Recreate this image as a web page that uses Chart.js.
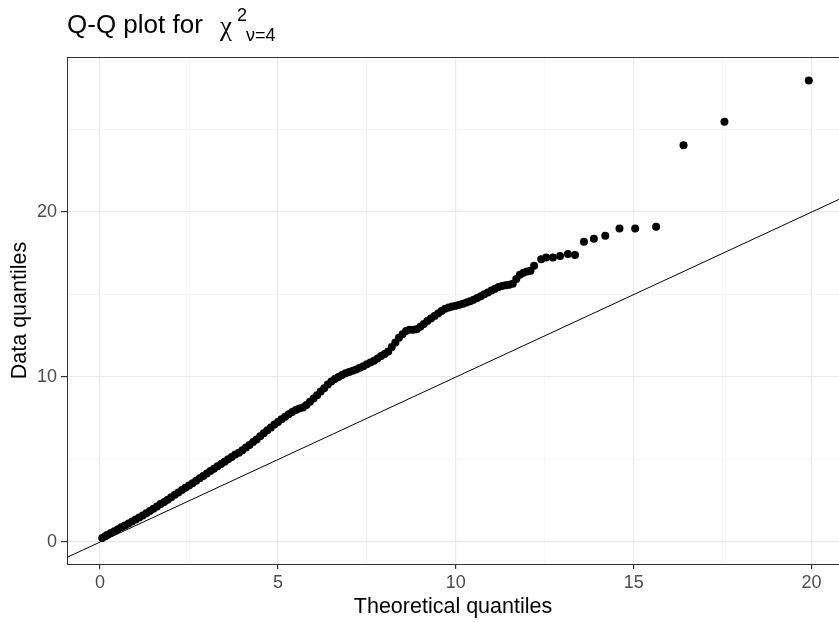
<!DOCTYPE html>
<html>
<head>
<meta charset="utf-8">
<script src="https://cdn.jsdelivr.net/npm/chart.js@4/dist/chart.umd.min.js"></script>
<style>
  html, body { margin: 0; padding: 0; background: #fff; }
  #box { width: 839px; height: 622px; }
</style>
</head>
<body>
<div id="box"><canvas id="qqChart" width="839" height="622"></canvas></div>
<script>
// theoretical quantiles (x) and sorted data quantiles (y)
var theoX = [0.06, 0.15, 0.2, 0.3, 0.4, 0.5, 0.6, 0.7, 0.8, 0.9, 1.0, 1.1, 1.2, 1.3, 1.4, 1.5, 1.6, 1.7, 1.8, 1.9,
  2.0, 2.1, 2.2, 2.3, 2.4, 2.5, 2.6, 2.7, 2.8, 2.9, 3.0, 3.1, 3.2, 3.3, 3.4, 3.5, 3.6, 3.7, 3.8, 3.9,
  4.0, 4.1, 4.2, 4.3, 4.4, 4.5, 4.6, 4.7, 4.8, 4.9, 5.0, 5.1, 5.2, 5.3, 5.4, 5.5, 5.6, 5.7, 5.8, 5.9,
  6.0, 6.1, 6.2, 6.3, 6.4, 6.5, 6.6, 6.7, 6.8, 6.9, 7.0, 7.1, 7.2, 7.3, 7.4, 7.5, 7.6, 7.7, 7.8, 7.9,
  8.0, 8.1, 8.2, 8.3, 8.4, 8.5, 8.6, 8.7, 8.8, 8.9, 9.0, 9.1, 9.2, 9.3, 9.4, 9.5, 9.6, 9.7, 9.8, 9.9,
  10.0, 10.1, 10.2, 10.3, 10.4, 10.5, 10.6, 10.7, 10.8, 10.9, 11.0, 11.1, 11.2, 11.3, 11.4, 11.5, 11.6, 11.7, 11.8, 11.9,
  12.0, 12.1, 12.2, 12.4, 12.54, 12.73, 12.93, 13.15, 13.35, 13.6, 13.88, 14.2, 14.6, 15.04, 15.63, 16.4, 17.55, 19.92];
var dataY = [0.25, 0.35, 0.43, 0.55, 0.66, 0.78, 0.9, 1.01, 1.13, 1.25, 1.37, 1.49, 1.61, 1.74, 1.88, 2.02, 2.16, 2.3, 2.43, 2.57,
  2.71, 2.86, 3.0, 3.15, 3.29, 3.43, 3.57, 3.72, 3.86, 4.01, 4.16, 4.3, 4.45, 4.59, 4.73, 4.86, 5.02, 5.16, 5.31, 5.42,
  5.57, 5.73, 5.89, 6.06, 6.22, 6.41, 6.59, 6.77, 6.95, 7.12, 7.28, 7.45, 7.59, 7.74, 7.88, 8.01, 8.1, 8.16, 8.3, 8.5,
  8.7, 8.9, 9.12, 9.33, 9.55, 9.73, 9.88, 10.0, 10.12, 10.23, 10.3, 10.38, 10.46, 10.56, 10.66, 10.77, 10.88, 10.99, 11.13, 11.27,
  11.4, 11.55, 11.82, 12.1, 12.38, 12.6, 12.8, 12.87, 12.87, 12.9, 13.05, 13.22, 13.4, 13.55, 13.7, 13.85, 14.0, 14.14, 14.22, 14.27,
  14.32, 14.38, 14.45, 14.52, 14.6, 14.68, 14.8, 14.9, 15.02, 15.12, 15.25, 15.36, 15.46, 15.52, 15.57, 15.6, 15.65, 15.95, 16.2, 16.32,
  16.4, 16.45, 16.75, 17.14, 17.24, 17.24, 17.34, 17.46, 17.4, 18.2, 18.39, 18.57, 19.0, 19.0, 19.11, 24.05, 25.48, 27.98];

// reference line y = x, drawn across the panel
var refLine = [-1, 21];

// axis ticks
var xTicks = [0, 5, 10, 15, 20];
var xMinor = [2.5, 7.5, 12.5, 17.5];
var yTicks = [0, 10, 20];
var yMinor = [5, 15, 25];

var points = theoX.map(function(x, i){ return {x: x, y: dataY[i]}; });
var linePts = refLine.map(function(v){ return {x: v, y: v}; });

function setTicks(major, minor){
  return function(scale){
    scale.ticks = major.concat(minor).sort(function(a, b){ return a - b; })
      .map(function(v){ return {value: v}; });
  };
}
function isMajor(list){
  return function(ctx){ return ctx.tick && list.indexOf(ctx.tick.value) >= 0; };
}
var xMaj = isMajor(xTicks), yMaj = isMajor(yTicks);

//标题: 带上下标的文字
var titlePlugin = {
  id: 'qqTitle',
  afterDraw: function(chart){
    var c = chart.ctx, a = chart.chartArea;
    c.save();
    c.fillStyle = '#000';
    c.textBaseline = 'alphabetic';
    c.textAlign = 'left';
    c.font = '26px "Liberation Sans", Arial, sans-serif';
    c.fillText('Q-Q plot for', 67, 33);
    c.font = '27px "Liberation Serif", serif';
    c.fillText('\u03c7', 220, 35);
    c.font = '18px "Liberation Sans", Arial, sans-serif';
    c.fillText('2', 237, 21);
    c.fillText('\u03bd=4', 246, 41);
    // panel border (top)
    c.strokeStyle = '#333333';
    c.lineWidth = 1;
    c.beginPath();
    c.moveTo(a.left, a.top + 0.5);
    c.lineTo(chart.width, a.top + 0.5);
    c.stroke();
    c.restore();
  }
};

new Chart(document.getElementById('qqChart'), {
  type: 'scatter',
  data: {
    datasets: [
      {
        type: 'line',
        data: linePts,
        borderColor: '#000',
        borderWidth: 1,
        pointRadius: 0,
        fill: false,
        order: 0
      },
      {
        data: points,
        backgroundColor: '#000',
        borderColor: '#000',
        borderWidth: 0,
        pointRadius: 4,
        pointHoverRadius: 4,
        order: 1
      }
    ]
  },
  options: {
    responsive: false,
    animation: false,
    layout: { autoPadding: false, padding: { top: 57, left: 0, right: 0, bottom: 0 } },
    plugins: {
      legend: { display: false },
      tooltip: { enabled: false },
      title: { display: false }
    },
    scales: {
      x: {
        type: 'linear',
        min: -0.93,
        max: 20.77,
        afterBuildTicks: setTicks(xTicks, xMinor),
        afterFit: function(s){ s.height = 58; s.paddingLeft = 0; s.paddingRight = 0; },
        grid: {
          color: function(ctx){ return xMaj(ctx) ? '#ebebeb' : '#f1f1f1'; },
          lineWidth: function(ctx){ return xMaj(ctx) ? 1.2 : 0.8; },
          tickColor: function(ctx){ return xMaj(ctx) ? '#333333' : 'rgba(0,0,0,0)'; },
          tickLength: 5,
          drawTicks: true
        },
        border: { display: true, color: '#333333', width: 1 },
        ticks: {
          autoSkip: false,
          maxRotation: 0,
          padding: 3,
          color: '#4d4d4d',
          font: { family: '"Liberation Sans", Arial, sans-serif', size: 18 },
          callback: function(v){ return xTicks.indexOf(v) >= 0 ? String(v) : ''; }
        },
        title: {
          display: true,
          text: 'Theoretical quantiles',
          color: '#000',
          font: { family: '"Liberation Sans", Arial, sans-serif', size: 21.5 },
          padding: { top: 0, bottom: 2 }
        }
      },
      y: {
        type: 'linear',
        min: -1.33,
        max: 29.4,
        afterBuildTicks: setTicks(yTicks, yMinor),
        afterFit: function(s){ s.width = 67; s.paddingTop = 0; s.paddingBottom = 0; },
        grid: {
          color: function(ctx){ return yMaj(ctx) ? '#ebebeb' : '#f1f1f1'; },
          lineWidth: function(ctx){ return yMaj(ctx) ? 1.2 : 0.8; },
          tickColor: function(ctx){ return yMaj(ctx) ? '#333333' : 'rgba(0,0,0,0)'; },
          tickLength: 6,
          drawTicks: true
        },
        border: { display: true, color: '#333333', width: 1 },
        ticks: {
          autoSkip: false,
          padding: 4,
          color: '#4d4d4d',
          font: { family: '"Liberation Sans", Arial, sans-serif', size: 18 },
          callback: function(v){ return yTicks.indexOf(v) >= 0 ? String(v) : ''; }
        },
        title: {
          display: true,
          text: 'Data quantiles',
          color: '#000',
          font: { family: '"Liberation Sans", Arial, sans-serif', size: 21.5 },
          padding: { top: 7, bottom: 0 }
        }
      }
    }
  },
  plugins: [titlePlugin]
});
</script>
</body>
</html>
